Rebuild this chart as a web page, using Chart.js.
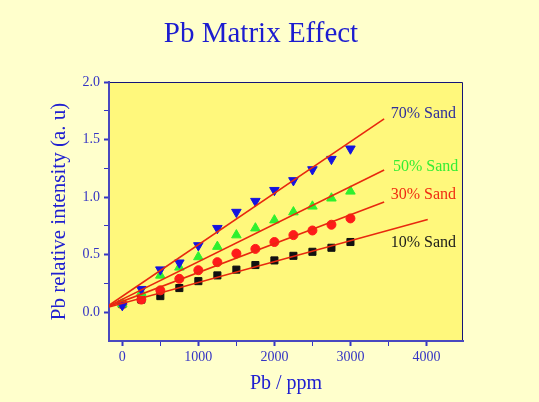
<!DOCTYPE html>
<html>
<head>
<meta charset="utf-8">
<script src="https://cdn.jsdelivr.net/npm/chart.js@4.4.1/dist/chart.umd.min.js"></script>
<style>
  html, body { margin: 0; padding: 0; background: #ffffcc; }
</style>
</head>
<body>
<canvas id="myChart" width="539" height="402"></canvas>
<script>
// Pb concentration of each standard (ppm)
var pbPpm = [0, 250, 500, 750, 1000, 1250, 1500, 1750, 2000, 2250, 2500, 2750, 3000];

// relative intensity, one list per sand content
var sand70 = [0.06, 0.20, 0.37, 0.43, 0.58, 0.73, 0.87, 0.965, 1.06, 1.145, 1.24, 1.33, 1.42];
var sand50 = [0.07, 0.17, 0.32, 0.39, 0.48, 0.57, 0.67, 0.73, 0.80, 0.87, 0.92, 0.99, 1.05];
var sand30 = [0.07, 0.11, 0.19, 0.29, 0.365, 0.435, 0.51, 0.55, 0.61, 0.67, 0.71, 0.76, 0.815];
var sand10 = [0.07, 0.11, 0.14, 0.21, 0.27, 0.32, 0.37, 0.41, 0.45, 0.49, 0.525, 0.56, 0.61];

// end points of the red fit lines (x in ppm, y in a.u.)
var fit70 = [[-175, 0.06], [3443, 1.68]];
var fit50 = [[-175, 0.055], [3443, 1.235]];
var fit30 = [[-175, 0.05], [3443, 0.957]];
var fit10 = [[-175, 0.045], [4016, 0.806]];

// series names and where their text sits (data units)
var seriesNames = ['70% Sand', '50% Sand', '30% Sand', '10% Sand'];
var seriesColors = ['#2e2e9c', '#33ee33', '#f02a10', '#1a1a1a'];
var labelAtX = [3530, 3560, 3530, 3530];
var labelAtY = [1.72, 1.265, 1.02, 0.60];

// tick values
var xTicks = [0, 500, 1000, 1500, 2000, 2500, 3000, 3500, 4000];
var yTicks = [0, 0.25, 0.5, 0.75, 1.0, 1.25, 1.5, 1.75, 2.0];

var serif = "'Liberation Serif', 'DejaVu Serif', serif";
var axisBlue = '#3434c4';
var fitRed = '#e8280e';

function toPoints(xs, ys) {
  var pts = [];
  for (var i = 0; i < xs.length; i++) {
    pts.push({x: xs[i], y: ys[i]});
  }
  return pts;
}

function fitLine(ends) {
  return {
    type: 'line',
    data: ends.map(function(p) { return {x: p[0], y: p[1]}; }),
    borderColor: fitRed,
    borderWidth: 1.6,
    pointRadius: 0,
    fill: false,
    order: 0
  };
}

// yellow plot area, dark top/right frame, title and series names
var decorPlugin = {
  id: 'decor',
  beforeDraw: function(chart) {
    var ctx = chart.ctx, a = chart.chartArea;
    ctx.save();
    ctx.fillStyle = '#ffffcc';
    ctx.fillRect(0, 0, chart.width, chart.height);
    ctx.fillStyle = '#fff87c';
    ctx.fillRect(a.left, a.top, a.right - a.left, a.bottom - a.top);
    ctx.strokeStyle = '#141478';
    ctx.lineWidth = 1;
    ctx.beginPath();
    ctx.moveTo(a.left, a.top + 0.5);
    ctx.lineTo(a.right - 0.5, a.top + 0.5);
    ctx.lineTo(a.right - 0.5, a.bottom);
    ctx.stroke();
    ctx.restore();
  },
  afterDraw: function(chart) {
    var ctx = chart.ctx;
    var xs = chart.scales.x, ys = chart.scales.y;
    ctx.save();
    ctx.textBaseline = 'middle';
    ctx.textAlign = 'center';
    ctx.fillStyle = '#1c1cd0';
    ctx.font = '29px ' + serif;
    ctx.fillText('Pb Matrix Effect', 261, 34);
    ctx.textAlign = 'left';
    ctx.font = '16px ' + serif;
    for (var i = 0; i < seriesNames.length; i++) {
      ctx.fillStyle = seriesColors[i];
      ctx.fillText(seriesNames[i], xs.getPixelForValue(labelAtX[i]), ys.getPixelForValue(labelAtY[i]));
    }
    ctx.restore();
  }
};

var config = {
  type: 'scatter',
  data: {
    datasets: [
      fitLine(fit70), fitLine(fit50), fitLine(fit30), fitLine(fit10),
      {label: seriesNames[0], data: toPoints(pbPpm, sand70), pointStyle: 'triangle', rotation: 180,
       pointRadius: 5.5, backgroundColor: '#1414e0', borderColor: '#1414e0', order: 1},
      {label: seriesNames[1], data: toPoints(pbPpm, sand50), pointStyle: 'triangle',
       pointRadius: 5.5, backgroundColor: '#2ef02e', borderColor: '#2ef02e', order: 2},
      {label: seriesNames[2], data: toPoints(pbPpm, sand30), pointStyle: 'circle',
       pointRadius: 4.5, backgroundColor: '#ff1a1a', borderColor: '#ff1a1a', order: 3},
      {label: seriesNames[3], data: toPoints(pbPpm, sand10), pointStyle: 'rect',
       pointRadius: 5, backgroundColor: '#111111', borderColor: '#111111', order: 4}
    ]
  },
  options: {
    responsive: false,
    animation: false,
    layout: {padding: {top: 82, right: 76, left: 0, bottom: 0}},
    plugins: {
      legend: {display: false},
      title: {display: false},
      tooltip: {enabled: false}
    },
    scales: {
      x: {
        type: 'linear',
        min: -175,
        max: 4480,
        afterBuildTicks: function(s) { s.ticks = xTicks.map(function(v) { return {value: v}; }); },
        afterFit: function(s) { s.height = 61; },
        ticks: {
          autoSkip: false, maxRotation: 0, padding: 3,
          color: axisBlue, font: {family: serif, size: 14},
          callback: function(v) { return v % 1000 === 0 ? String(v) : ''; }
        },
        grid: {
          drawOnChartArea: false, tickLength: 5, tickColor: axisBlue,
          tickWidth: function(c) { return c.tick && c.tick.value % 1000 === 0 ? 2 : 1; }
        },
        border: {color: '#4848c0', width: 2},
        title: {display: true, text: 'Pb / ppm', color: '#2020d0',
                font: {family: serif, size: 20}, padding: {top: 0, bottom: 6}}
      },
      y: {
        min: -0.25,
        max: 2.0,
        afterBuildTicks: function(s) { s.ticks = yTicks.map(function(v) { return {value: v}; }); },
        afterFit: function(s) { s.width = 109; },
        ticks: {
          autoSkip: false, padding: 4,
          color: axisBlue, font: {family: serif, size: 14},
          callback: function(v) { return Math.abs(v * 2 - Math.round(v * 2)) < 1e-6 ? v.toFixed(1) : ''; }
        },
        grid: {
          drawOnChartArea: false, tickLength: 5, tickColor: axisBlue,
          tickWidth: function(c) { return c.tick && Math.abs(c.tick.value * 2 - Math.round(c.tick.value * 2)) < 1e-6 ? 2 : 1; }
        },
        border: {color: '#4848c0', width: 2},
        title: {display: true, text: 'Pb relative intensity (a. u)', color: '#2020d0',
                font: {family: serif, size: 21}, padding: {top: 47, bottom: 0}}
      }
    }
  },
  plugins: [decorPlugin]
};

var myChart = new Chart(document.getElementById('myChart'), config);
</script>
</body>
</html>
